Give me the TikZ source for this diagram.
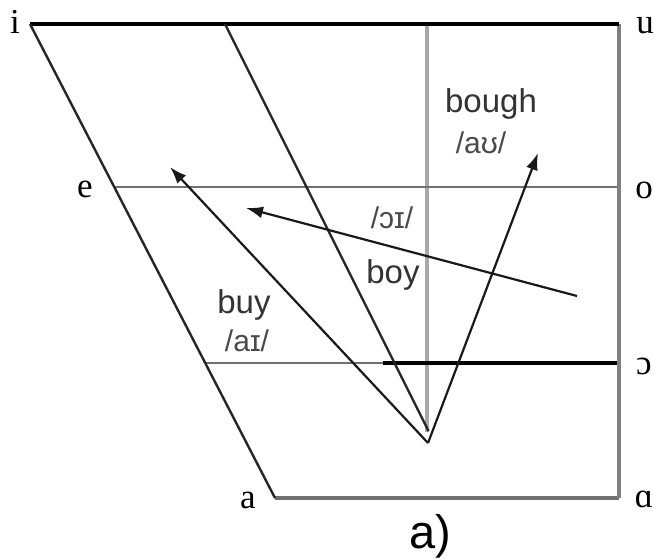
\documentclass[tikz,border=0pt]{standalone}
\usepackage{fontspec}
\setmainfont{Liberation Serif}
\newfontfamily\labfont{Liberation Sans}
\usetikzlibrary{arrows.meta}
\definecolor{txtgray}{HTML}{333333}
\definecolor{ipagray}{HTML}{4A4A4A}
\definecolor{linegray}{HTML}{707070}
\definecolor{lightgray2}{HTML}{A8A8A8}
\definecolor{darkline}{HTML}{262626}
\tikzset{
  corner/.style={anchor=base, inner sep=0pt, font=\fontsize{35}{37}\selectfont, text=black},
  word/.style={anchor=base, inner sep=0pt, font=\labfont\fontsize{33}{35}\selectfont, text=txtgray},
  ipa/.style={anchor=base, inner sep=0pt, font=\labfont\fontsize{30}{32}\selectfont, text=ipagray},
  thickblack/.style={draw=black, line width=3.5pt},
  grayline/.style={draw=linegray, line width=2.8pt},
  vline/.style={draw=lightgray2, line width=4pt},
  slant/.style={draw=darkline, line width=2.4pt},
  arr/.style={draw=black!90, line width=2.2pt, -{Latex[length=17pt,width=12pt]}}
}
\begin{document}
\begin{tikzpicture}[x=1pt,y=-1pt]
\useasboundingbox (0,0) rectangle (654,558);
% corner points
\coordinate (I) at (30,24);
\coordinate (U) at (619,24);
\coordinate (A) at (275,498);
\coordinate (Q) at (619,498);
\coordinate (E) at (114,187);
\coordinate (O) at (619,187);
\coordinate (C) at (205,363);
\coordinate (Cm) at (383,363);
\coordinate (Cr) at (619,363);
\coordinate (Vt) at (427,24);
\coordinate (Vb) at (427,432);
\coordinate (St) at (225,24);
\coordinate (Sb) at (428.5,431);
\coordinate (Apex) at (428,443);
\coordinate (BoughEnd) at (538,153);
\coordinate (BuyEnd) at (170,167);
\coordinate (BoyStart) at (577,296);
\coordinate (BoyEnd) at (246,208);
% grid
\draw[vline] (Vt) -- (Vb);
\draw[grayline, line width=2.4pt] (E) -- (O);
\draw[grayline] (C) -- (Cm);
\draw[thickblack] (Cm) -- (Cr);
\draw[grayline, line width=3.2pt] (A) -- (Q);
\draw[grayline, draw=gray, line width=3.2pt] (U) -- (Q);
\draw[thickblack] (I) -- (U);
\draw[slant] (I) -- (A);
\draw[slant] (St) -- (Sb);
% arrows
\draw[arr] (Apex) -- (BoughEnd);
\draw[arr] (Apex) -- (BuyEnd);
\draw[arr] (BoyStart) -- (BoyEnd);
% corner labels
\node[corner] (li) at (15,33) {i};
\node[corner] (lu) at (645,33) {u};
\node[corner] (le) at (85,197) {e};
\node[corner] (lo) at (644,198) {o};
\node[corner] (lc) at (644,374) {ɔ};
\node[corner] (lq) at (644,507) {ɑ};
\node[corner] (la) at (248,508) {a};
% word labels
\node[word] (wbough) at (491,112) {bough};
\node[ipa] (ibough) at (481,153) {/aʊ/};
\node[ipa] (iboy) at (392,228) {/ɔɪ/};
\node[word] (wboy) at (393,283) {boy};
\node[word] (wbuy) at (244,313) {buy};
\node[ipa] (ibuy) at (247,351) {/aɪ/};
\node[anchor=base, inner sep=0pt, font=\labfont\fontsize{47}{49}\selectfont] (cap) at (430,548) {a)};
\end{tikzpicture}
\end{document}
